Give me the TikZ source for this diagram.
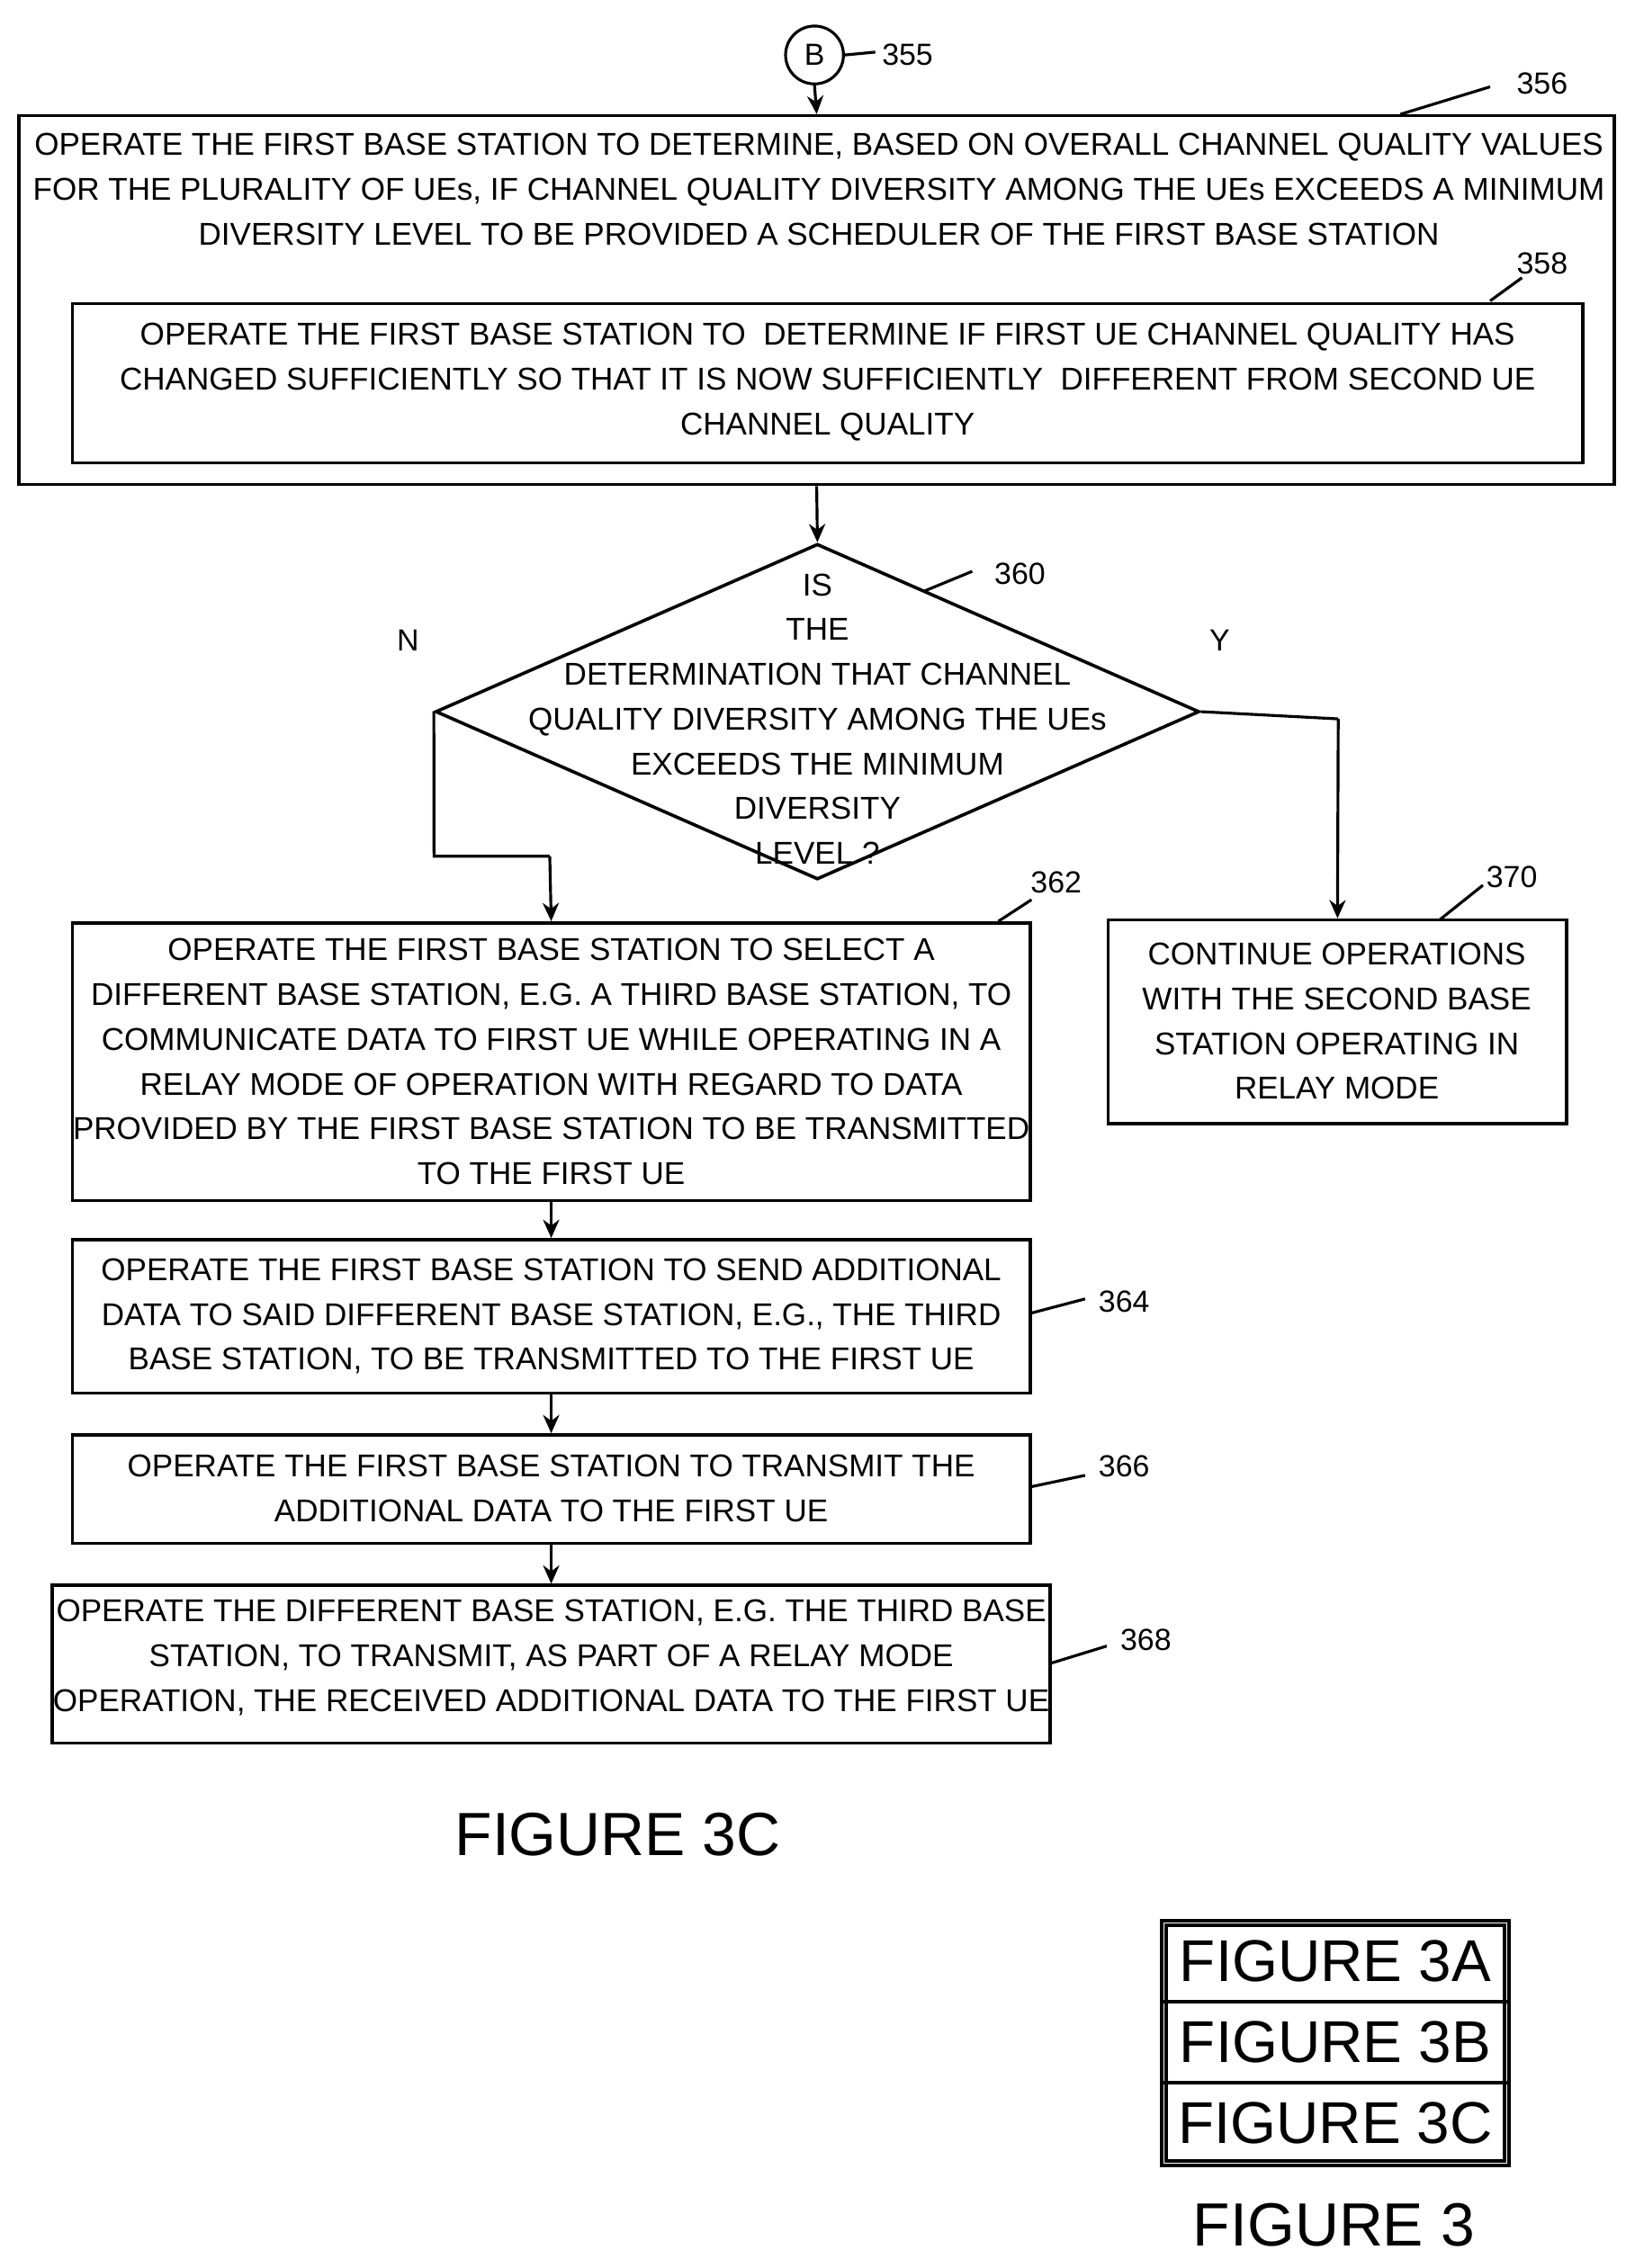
\documentclass[tikz,border=0pt]{standalone}
\usepackage{fontspec}
\setmainfont{Liberation Sans}
\usetikzlibrary{shapes.geometric,arrows.meta}
\begin{document}
\begin{tikzpicture}[x=0.025cm,y=-0.025cm,
 box/.style={draw,line width=1.6pt,inner sep=0pt},
 txt/.style={align=center,font=\fontsize{15.5pt}{22pt}\selectfont,inner sep=0pt},
 lab/.style={font=\fontsize{15pt}{18pt}\selectfont,inner sep=1pt},
 lead/.style={line width=1.4pt},
 arr/.style={line width=1.4pt,-{Stealth[length=9pt,width=8pt]}}]
\useasboundingbox (0,0) rectangle (1130,1568);
\def\bx#1#2#3#4#5{\node[box,minimum width={(#4-#2)*0.025cm},minimum height={(#5-#3)*0.025cm}] (#1) at ({(#2+#4)/2},{(#3+#5)/2}) {};}
% circle B
\node[draw,circle,line width=1.4pt,minimum size=1cm,inner sep=0pt,font=\fontsize{15pt}{18pt}\selectfont] (B) at (563,38) {B};
\coordinate (l355) at (605,36);
\draw[lead] (B.east) -- (l355);
\node[lab,anchor=west] (t355) at (608,38) {355};
% box 356
\bx{b356}{13}{80}{1116}{335}
\node[txt] (x356) at (566,131) {OPERATE THE FIRST BASE STATION TO DETERMINE, BASED ON OVERALL CHANNEL QUALITY VALUES\\FOR THE PLURALITY OF UEs, IF CHANNEL QUALITY DIVERSITY AMONG THE UEs EXCEEDS A MINIMUM\\DIVERSITY LEVEL TO BE PROVIDED A SCHEDULER OF THE FIRST BASE STATION};
\node[lab] (t356) at (1066,58) {356};
\coordinate (a356) at (968,79); \coordinate (c356) at (1030,60);
\draw[lead] (a356) -- (c356);
\draw[arr] (B.south) -- (b356.north);
% box 358
\bx{b358}{50}{210}{1094}{320}
\node[txt] (x358) at (572,264) {OPERATE THE FIRST BASE STATION TO \ DETERMINE IF FIRST UE CHANNEL QUALITY HAS\\CHANGED SUFFICIENTLY SO THAT IT IS NOW SUFFICIENTLY \ DIFFERENT FROM SECOND UE\\CHANNEL QUALITY};
\node[lab] (t358) at (1066,182) {358};
\coordinate (a358) at (1030,208); \coordinate (c358) at (1052,192);
\draw[lead] (a358) -- (c358);
% diamond
\node[draw,diamond,line width=1.6pt,minimum width={528*0.025cm},minimum height={232*0.025cm},inner sep=0pt,aspect=2.28] (d360) at (565,492) {};
\draw[arr] (b356.south) -- (d360.north);
\node[txt] (x360) at (565,497) {IS\\THE\\DETERMINATION THAT CHANNEL\\QUALITY DIVERSITY AMONG THE UEs\\EXCEEDS THE MINIMUM\\DIVERSITY\\LEVEL ?};
\node[lab] (t360) at (705,397) {360};
\coordinate (a360) at (638,409); \coordinate (c360) at (672,395);
\draw[lead] (a360) -- (c360);
\node[lab] (N) at (282,443) {N};
\node[lab] (Y) at (843,443) {Y};
% box 362
\bx{b362}{50}{638}{712}{830}
\node[txt] (x362) at (381,734) {OPERATE THE FIRST BASE STATION TO SELECT A\\DIFFERENT BASE STATION, E.G. A THIRD BASE STATION, TO\\COMMUNICATE DATA TO FIRST UE WHILE OPERATING IN A\\RELAY MODE OF OPERATION WITH REGARD TO DATA\\PROVIDED BY THE FIRST BASE STATION TO BE TRANSMITTED\\TO THE FIRST UE};
\node[lab] (t362) at (730,610) {362};
\coordinate (a362) at (690,637); \coordinate (c362) at (713,622);
\draw[lead] (a362) -- (c362);
% box 370
\bx{b370}{766}{636}{1083}{777}
\node[txt] (x370) at (924,706) {CONTINUE OPERATIONS\\WITH THE SECOND BASE\\STATION OPERATING IN\\RELAY MODE};
\node[lab] (t370) at (1045,606) {370};
\coordinate (a370) at (995,636); \coordinate (c370) at (1025,612);
\draw[lead] (a370) -- (c370);
% branches
\coordinate (nl) at (300,592);
\coordinate (nr) at (380,592);
\draw[lead] (d360.west) -- (nl) -- (nr);
\draw[arr] (nr) -- (b362.north);
\coordinate (yr) at (925,497);
\draw[lead] (d360.east) -- (yr);
\draw[arr] (yr) -- (b370.north);
% box 364
\bx{b364}{50}{857}{712}{963}
\node[txt] (x364) at (381,910) {OPERATE THE FIRST BASE STATION TO SEND ADDITIONAL\\DATA TO SAID DIFFERENT BASE STATION, E.G., THE THIRD\\BASE STATION, TO BE TRANSMITTED TO THE FIRST UE};
\node[lab] (t364) at (777,900) {364};
\coordinate (a364) at (712,908); \coordinate (c364) at (750,898);
\draw[lead] (a364) -- (c364);
% box 366
\bx{b366}{50}{992}{712}{1067}
\node[txt] (x366) at (381,1029) {OPERATE THE FIRST BASE STATION TO TRANSMIT THE\\ADDITIONAL DATA TO THE FIRST UE};
\node[lab] (t366) at (777,1014) {366};
\coordinate (a366) at (712,1028); \coordinate (c366) at (750,1020);
\draw[lead] (a366) -- (c366);
% box 368
\bx{b368}{36}{1096}{726}{1205}
\node[txt] (x368) at (381,1146) {OPERATE THE DIFFERENT BASE STATION, E.G. THE THIRD BASE\\STATION, TO TRANSMIT, AS PART OF A RELAY MODE\\OPERATION, THE RECEIVED ADDITIONAL DATA TO THE FIRST UE};
\node[lab] (t368) at (792,1134) {368};
\coordinate (a368) at (726,1150); \coordinate (c368) at (765,1138);
\draw[lead] (a368) -- (c368);
% arrows
\draw[arr] (b362.south) -- (b364.north);
\draw[arr] (b364.south) -- (b366.north);
\draw[arr] (b366.south) -- (b368.north);
% figure labels
\node[font=\fontsize{30pt}{34pt}\selectfont,inner sep=0pt] (f3c) at (427,1268) {FIGURE 3C};
\bx{r1}{803}{1328}{1043}{1384}
\bx{r2}{803}{1384}{1043}{1440}
\bx{r3}{803}{1440}{1043}{1497}
\draw[line width=1.6pt] (806,1331) rectangle (1040,1494);
\node[font=\fontsize{29pt}{32pt}\selectfont,inner sep=0pt] (f3a) at (923,1356) {FIGURE 3A};
\node[font=\fontsize{29pt}{32pt}\selectfont,inner sep=0pt] (f3b) at (923,1412) {FIGURE 3B};
\node[font=\fontsize{29pt}{32pt}\selectfont,inner sep=0pt] (f3cc) at (923,1468) {FIGURE 3C};
\node[font=\fontsize{30pt}{34pt}\selectfont,inner sep=0pt] (f3) at (922,1538) {FIGURE 3};
\end{tikzpicture}
\end{document}
